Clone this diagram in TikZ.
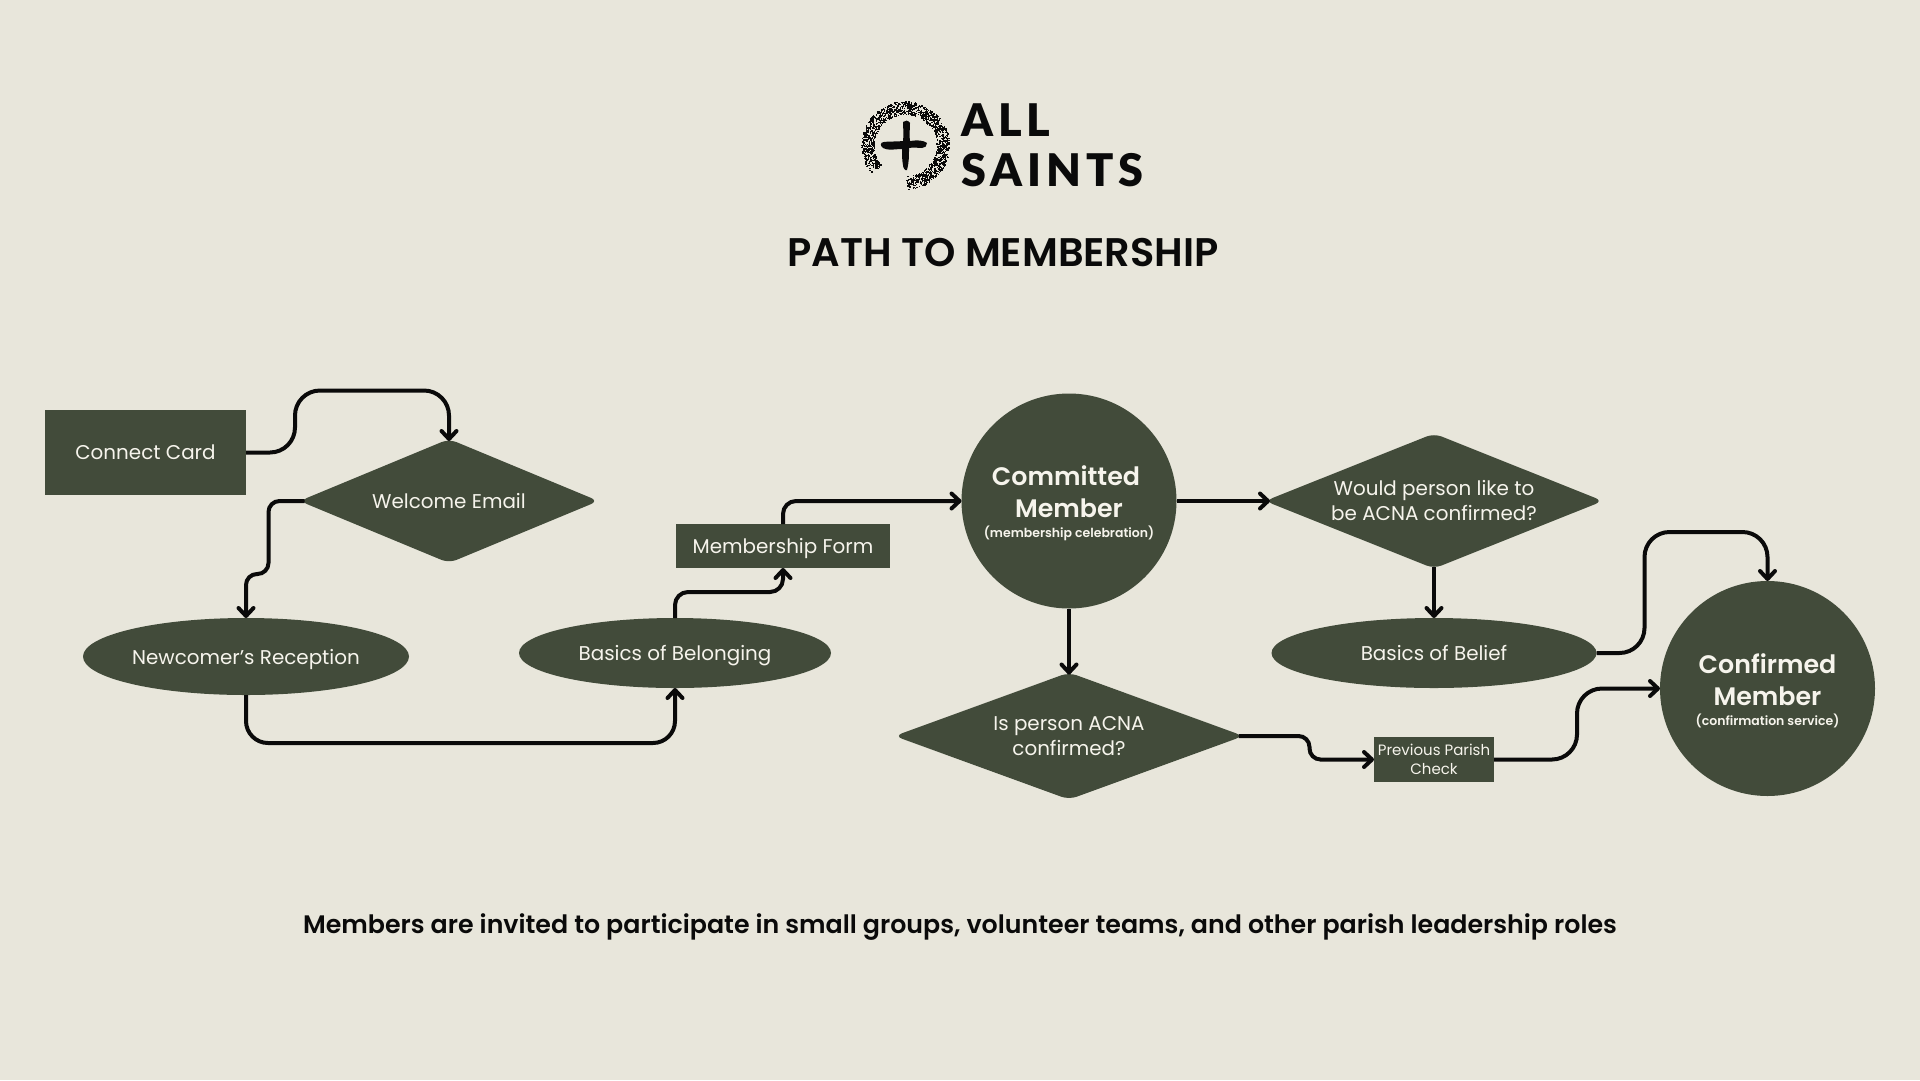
\documentclass[tikz,border=0pt]{standalone}
\usepackage{fontspec}
\setmainfont{Poppins}
\newfontfamily\semi{Poppins SemiBold}
\newfontfamily\logofont[LetterSpace=11]{Lato Black}
\usetikzlibrary{arrows.meta,shapes.geometric}
\definecolor{paper}{HTML}{E8E6DB}
\definecolor{moss}{HTML}{424B3A}
\definecolor{chalk}{HTML}{F6F4EC}
\definecolor{ink}{HTML}{0A0A0A}

\begin{document}
\begin{tikzpicture}[
  x=1pt, y=-1pt,
  shapebase/.style={fill=moss, text=chalk, inner sep=0pt, outer sep=0pt, align=center,
                    font=\fontsize{19.9}{25}\selectfont},
  card/.style={shapebase, rectangle},
  decision/.style={shapebase, diamond, rounded corners=8pt},
  oval/.style={shapebase, ellipse},
  member/.style={shapebase, circle, minimum size=215pt},
  flow/.style={draw=ink, line width=4pt, -{Straight Barb[length=8pt,width=15pt,round]}},
  headline/.style={text=ink, inner sep=0pt, font=\semi\fontsize{39.9}{44}\selectfont},
  logotext/.style={text=ink, inner sep=0pt, anchor=west, font=\logofont\fontsize{45}{50}\selectfont}
]
  \useasboundingbox (0,0) rectangle (1920,1080);
  \fill[paper] (0,0) rectangle (1920,1080);
  % Logo
  \pgfmathsetseed{4711}
  \foreach \i in {1,...,1500} {
    \pgfmathsetmacro\ang{220-308*rnd}
    \pgfmathsetmacro\rad{31+13*rnd}
    \fill[ink] ({905+\rad*cos(\ang)},{145-\rad*sin(\ang)}) rectangle +(1.3,1.3);
  }
  \fill[ink] (903,122) .. controls (905,120) and (908,120) .. (910,123)
    .. controls (910,130) and (909,135) .. (910,141) .. controls (917,140) and (923,140) .. (927,143)
    .. controls (927,146) and (925,148) .. (922,148) .. controls (918,148) and (914,147) .. (909,148)
    .. controls (909,156) and (909,163) .. (907,170) .. controls (905,171) and (903,168) .. (903,165)
    .. controls (902,160) and (902,155) .. (902,149) .. controls (895,149) and (888,151) .. (883,148)
    .. controls (880,146) and (880,142) .. (884,142) .. controls (890,141) and (896,142) .. (903,141)
    .. controls (904,134) and (903,128) .. (903,122) -- cycle;
  \node[logotext] (all) at (961,120) {ALL};
  \node[logotext] (saints) at (961,170) {SAINTS};
  % Title and footer
  \node[headline] (title) at (1003,253) {PATH TO MEMBERSHIP};
  \node[headline, font=\semi\fontsize{25.3}{30}\selectfont] (footer) at (960,927)
    {Members are invited to participate in small groups, volunteer teams, and other parish leadership roles};
  % Left part
  \node[card, minimum width=201pt, minimum height=85pt] (cc) at (145.5,452.5) {Connect Card};
  \node[decision, aspect=2.4, minimum width=299pt, minimum height=124pt] (we) at (449,501) {Welcome Email};
  \node[oval, text depth=0pt, minimum width=326pt, minimum height=77pt] (nr) at (246,656.5) {Newcomer’s Reception};
  \node[oval, text depth=0pt, minimum width=312pt, minimum height=70pt] (bb) at (675,653) {Basics of Belonging};
  \node[card, text depth=0pt, minimum width=214pt, minimum height=44pt] (mf) at (783,546) {Membership Form};
  % Committed member and what follows
  \node[member] (cm) at (1069,501) {\fontsize{25.3}{32}\selectfont\semi\rule{0pt}{24pt}\hspace*{-6pt}Committed\\[7pt]
    \fontsize{25.3}{30}\selectfont\semi Member\\[-5pt]\fontsize{12.5}{14}\selectfont\semi (membership celebration)};
  \node[decision, aspect=2.5, minimum width=338pt, minimum height=135pt] (wy) at (1434,501) {Would person like to\\be ACNA confirmed?};
  \node[oval, minimum width=325pt, minimum height=70pt] (bl) at (1434,653) {Basics of Belief};
  \node[decision, aspect=2.75, minimum width=349pt, minimum height=127pt] (ip) at (1069,736) {Is person ACNA\\confirmed?};
  \node[card, minimum width=120pt, minimum height=45pt, font=\fontsize{15}{19}\selectfont] (pc) at (1434,759.5) {Previous Parish\\Check};
  \node[member] (cr) at (1767.5,688.5) {\fontsize{25.3}{32}\selectfont\semi\rule{0pt}{24pt}Confirmed\\[7pt]
    \fontsize{25.3}{30}\selectfont\semi Member\\[-5pt]\fontsize{12.5}{14}\selectfont\semi (confirmation service)};
  % Connectors
  \draw[flow, rounded corners=25pt, shorten >=-2pt] (cc.east) -- ++(49,0) -- ++(0,-62) -| (we.north);
  \draw[flow, rounded corners=11pt, shorten <=-5pt] (we.west) -- ++(-31,0) -- ++(0,73) -| (nr.north);
  \draw[flow, rounded corners=22pt] (nr.south) -- ++(0,48) -| (bb.south);
  \draw[flow, rounded corners=13pt] (bb.north) -- ++(0,-26) -| (mf.south);
  \draw[flow, rounded corners=13pt] (mf.north) |- (cm.west);
  \draw[flow, shorten >=-5pt] (cm.east) -- (wy.west);
  \draw[flow, shorten >=-2pt] (cm.south) -- (ip.north);
  \draw[flow, shorten <=-2pt] (wy.south) -- (bl.north);
  \draw[flow, rounded corners=25pt] (bl.east) -- ++(48,0) -- ++(0,-121) -| (cr.north);
  \draw[flow, rounded corners=11pt, shorten <=-5pt] (ip.east) -- ++(66,0) |- (pc.west);
  \draw[flow, rounded corners=25pt] (pc.east) -- ++(83,0) |- (cr.west);
\end{tikzpicture}
\end{document}
